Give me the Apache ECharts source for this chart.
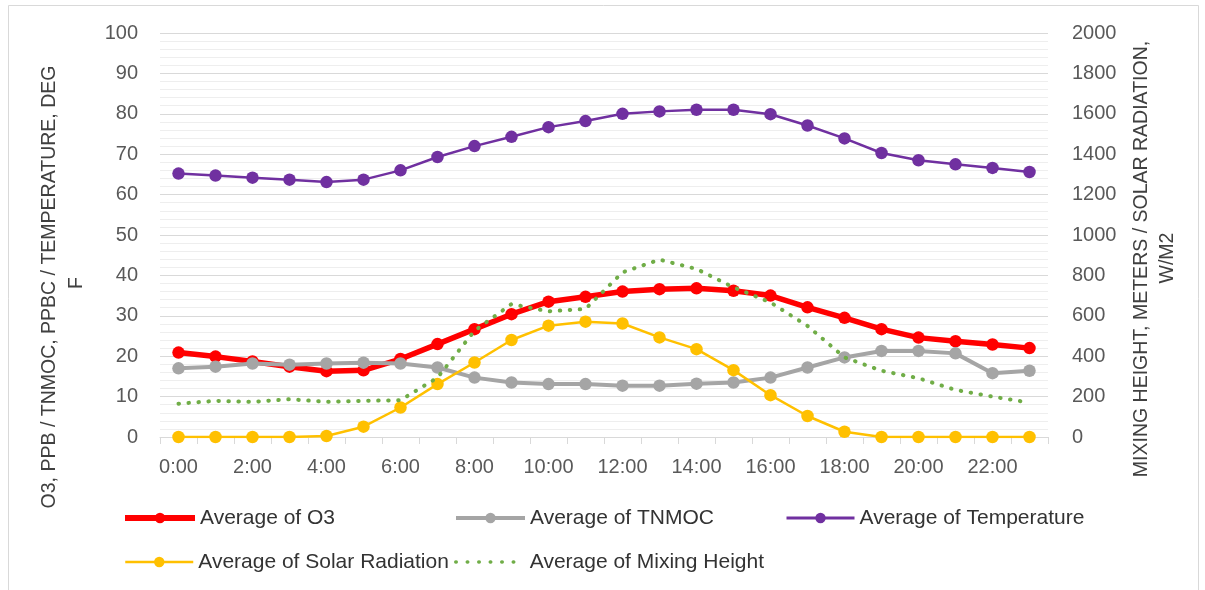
<!DOCTYPE html>
<html>
<head>
<meta charset="utf-8">
<script src="https://cdn.jsdelivr.net/npm/echarts@6/dist/echarts.min.js"></script>
<style>
html,body{margin:0;padding:0;background:#fff;}
#chart{width:1205px;height:590px;}
</style>
</head>
<body>
<div id="chart"></div>
<script>
const hours = ['0:00','1:00','2:00','3:00','4:00','5:00','6:00','7:00','8:00','9:00','10:00','11:00','12:00','13:00','14:00','15:00','16:00','17:00','18:00','19:00','20:00','21:00','22:00','23:00'];
const o3 = [20.9,19.9,18.7,17.4,16.3,16.5,19.3,23.0,26.7,30.4,33.5,34.7,36.0,36.6,36.8,36.2,35.0,32.1,29.5,26.7,24.6,23.7,22.9,22.0];
const tnmoc = [17.0,17.4,18.2,17.9,18.2,18.4,18.2,17.2,14.7,13.5,13.1,13.1,12.7,12.7,13.2,13.5,14.7,17.2,19.7,21.3,21.3,20.7,15.8,16.4];
const temperature = [65.2,64.7,64.2,63.7,63.1,63.7,66.0,69.3,72.0,74.3,76.7,78.2,80.0,80.6,81.0,81.0,79.9,77.1,73.9,70.3,68.5,67.5,66.6,65.6];
const solar = [0,0,0,0,5,51,146,262,369,480,551,571,562,493,435,331,207,104,26,0,0,0,0,0];
const mixing = [165,179,174,187,174,179,182,294,526,658,622,634,815,878,832,741,666,550,394,328,291,233,200,170];
const leftTitle = 'O3, PPB / TNMOC, PPBC / TEMPERATURE, DEG';
const leftTitle2 = 'F';
const rightTitle = 'MIXING HEIGHT, METERS / SOLAR RADIATION,';
const rightTitle2 = 'W/M2';

const FONT = "'Liberation Sans', Arial, sans-serif";
const chart = echarts.init(document.getElementById('chart'), null, {renderer: 'canvas'});

function legendAt(item, left, top, w) {
  return {
    data: [item], left: left, top: top, orient: 'horizontal', padding: 0,
    itemWidth: w, itemHeight: 13, selectedMode: false,
    textStyle: {fontFamily: FONT, fontSize: 21, color: '#333333', lineHeight: 24}
  };
}
function lineSeries(name, data, color, width, yIdx, z) {
  return {
    name: name, type: 'line', data: data, yAxisIndex: yIdx,
    symbol: 'circle', symbolSize: 12.5, showSymbol: true,
    lineStyle: {color: color, width: width}, itemStyle: {color: color},
    z: z
  };
}
const DOT = [0.5, 9.5];

const option = {
  animation: false,
  backgroundColor: '#ffffff',
  grid: {left: 160, right: 157, top: 33, bottom: 153, containLabel: false},
  legend: [
    legendAt({name: 'Average of O3', lineStyle: {width: 6}}, 122, 506, 70),
    legendAt({name: 'Average of TNMOC', lineStyle: {width: 4}}, 454, 506, 69),
    legendAt({name: 'Average of Temperature', lineStyle: {width: 3}}, 785, 506, 68),
    legendAt({name: 'Average of Solar Radiation', lineStyle: {width: 2.5}}, 124, 550, 68),
    legendAt({name: 'Average of Mixing Height', lineStyle: {width: 3.5, type: [0.5, 11], cap: 'round'}, itemStyle: {opacity: 0}}, 454, 550, 69)
  ],
  xAxis: {
    type: 'category', data: hours, boundaryGap: true,
    axisLine: {show: true, lineStyle: {color: '#D9D9D9', width: 1}},
    axisTick: {show: true, interval: 0, alignWithLabel: false, length: 7, lineStyle: {color: '#D9D9D9'}},
    axisLabel: {interval: 1, margin: 20, fontFamily: FONT, fontSize: 20, color: '#595959'},
    splitLine: {show: false}
  },
  yAxis: [
    {
      type: 'value', min: 0, max: 100, interval: 10, position: 'left',
      axisLine: {show: false}, axisTick: {show: false},
      axisLabel: {margin: 22, fontFamily: FONT, fontSize: 20, color: '#595959', formatter: v => String(v)},
      splitLine: {show: true, lineStyle: {color: '#D9D9D9', width: 1}},
      minorTick: {show: false, splitNumber: 5},
      minorSplitLine: {show: true, lineStyle: {color: '#EEEEEE', width: 1}}
    },
    {
      type: 'value', min: 0, max: 2000, interval: 200, position: 'right',
      axisLine: {show: false}, axisTick: {show: false},
      axisLabel: {margin: 24, fontFamily: FONT, fontSize: 20, color: '#595959', align: 'left', formatter: v => String(v)},
      splitLine: {show: false}
    }
  ],
  series: [
    lineSeries('Average of O3', o3, '#FF0000', 5.5, 0, 2),
    lineSeries('Average of TNMOC', tnmoc, '#A5A5A5', 4, 0, 3),
    lineSeries('Average of Temperature', temperature, '#7030A0', 2.5, 0, 4),
    lineSeries('Average of Solar Radiation', solar, '#FFC000', 2.5, 1, 5),
    {
      name: 'Average of Mixing Height', type: 'line', data: mixing, yAxisIndex: 1,
      symbol: 'none', showSymbol: false,
      lineStyle: {color: '#70AD47', width: 4, type: DOT, cap: 'round'},
      itemStyle: {color: '#70AD47'},
      z: 6
    }
  ],
  graphic: [
    {type: 'rect', shape: {x: 8.5, y: 5.5, width: 1190, height: 620}, style: {fill: 'none', stroke: '#D9D9D9', lineWidth: 1}, silent: true, z: -1},
    {type: 'text', x: 50, y: 287, rotation: Math.PI / 2,
      style: {text: leftTitle, font: '19.5px ' + FONT, fill: '#404040', align: 'center', verticalAlign: 'middle'}},
    {type: 'text', x: 77, y: 283, rotation: Math.PI / 2,
      style: {text: leftTitle2, font: '19.5px ' + FONT, fill: '#404040', align: 'center', verticalAlign: 'middle'}},
    {type: 'text', x: 1142, y: 259, rotation: Math.PI / 2,
      style: {text: rightTitle, font: '19.5px ' + FONT, fill: '#404040', align: 'center', verticalAlign: 'middle'}},
    {type: 'text', x: 1168, y: 258, rotation: Math.PI / 2,
      style: {text: rightTitle2, font: '19.5px ' + FONT, fill: '#404040', align: 'center', verticalAlign: 'middle'}}
  ]
};
chart.setOption(option);
</script>
</body>
</html>
